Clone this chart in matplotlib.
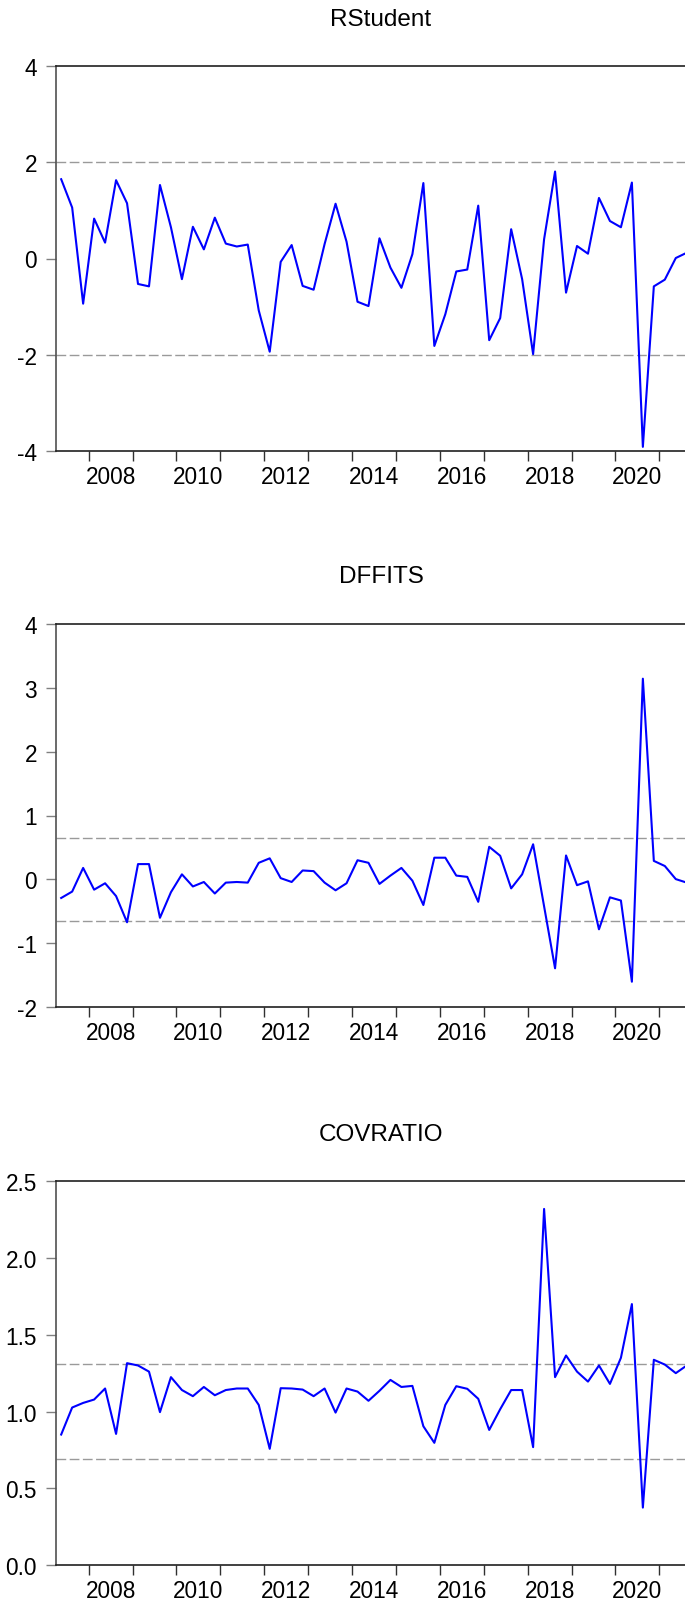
import numpy as np
import matplotlib
matplotlib.use("Agg")
import matplotlib.pyplot as plt
from matplotlib.ticker import FixedLocator, NullFormatter, FixedFormatter

plt.rcParams['font.family'] = ['Liberation Sans', 'DejaVu Sans']

# quarterly sample 2007Q2 - 2021Q3 (58 obs), plotted at quarter midpoints
n_obs = 58
quarters = 2007.375 + 0.25 * np.arange(n_obs)

rstudent = [1.65, 1.06, -0.94, 0.83, 0.33, 1.63, 1.15, -0.53, -0.58, 1.53,
            0.65, -0.43, 0.66, 0.19, 0.85, 0.31, 0.25, 0.29, -1.08, -1.94,
            -0.07, 0.28, -0.57, -0.65, 0.30, 1.14, 0.35, -0.90, -0.99, 0.42,
            -0.19, -0.61, 0.09, 1.57, -1.82, -1.16, -0.27, -0.23, 1.10, -1.70,
            -1.24, 0.61, -0.43, -1.99, 0.40, 1.81, -0.71, 0.26, 0.10, 1.26,
            0.78, 0.65, 1.58, -3.92, -0.58, -0.44, 0.01, 0.12]

dffits = [-0.29, -0.19, 0.18, -0.16, -0.06, -0.26, -0.67, 0.24, 0.24, -0.60,
          -0.20, 0.08, -0.11, -0.04, -0.22, -0.05, -0.04, -0.05, 0.26, 0.33,
          0.02, -0.04, 0.14, 0.13, -0.05, -0.17, -0.06, 0.30, 0.26, -0.07,
          0.06, 0.18, -0.02, -0.40, 0.34, 0.34, 0.06, 0.04, -0.35, 0.51,
          0.37, -0.14, 0.08, 0.55, -0.42, -1.39, 0.375, -0.09, -0.03, -0.78,
          -0.28, -0.33, -1.60, 3.14, 0.29, 0.21, 0.005, -0.05]

covratio = [0.85, 1.026, 1.056, 1.078, 1.15, 0.854, 1.315, 1.30, 1.26, 0.996,
            1.224, 1.14, 1.10, 1.16, 1.106, 1.14, 1.15, 1.15, 1.043, 0.757,
            1.152, 1.15, 1.143, 1.10, 1.15, 0.993, 1.15, 1.13, 1.07, 1.135,
            1.206, 1.16, 1.167, 0.904, 0.796, 1.043, 1.165, 1.148, 1.083, 0.88,
            1.015, 1.14, 1.14, 0.768, 2.32, 1.224, 1.365, 1.26, 1.195, 1.30,
            1.18, 1.35, 1.70, 0.374, 1.337, 1.306, 1.25, 1.30]

k_params = 6
dffits_cut = 2 * np.sqrt(k_params / n_obs)
cov_cut = 3 * k_params / n_obs

panels = [
    ("RStudent", rstudent, (-4, 4), [-4, -2, 0, 2, 4], ["-4", "-2", "0", "2", "4"], [-2, 2]),
    ("DFFITS", dffits, (-2, 4), [-2, -1, 0, 1, 2, 3, 4], ["-2", "-1", "0", "1", "2", "3", "4"],
     [-dffits_cut, dffits_cut]),
    ("COVRATIO", covratio, (0, 2.5), [0, 0.5, 1.0, 1.5, 2.0, 2.5],
     ["0.0", "0.5", "1.0", "1.5", "2.0", "2.5"], [1 - cov_cut, 1 + cov_cut]),
]

W, H = 685, 1606
fig = plt.figure(figsize=(W / 100, H / 100), dpi=100)

x0, x1 = 2007.25, 2021.75
left_px = 55.7
px_per_year = 43.9
right_px = left_px + (x1 - x0) * px_per_year
tops = [67.3, 624.7, 1182.3]
bottoms = [451.7, 1008.3, 1566.0]

fs = 16.3
title_fs = 17.5
for (title, vals, ylim, yt, ytl, refs), top, bot in zip(panels, tops, bottoms):
    ax = fig.add_axes([left_px / W, 1 - bot / H, (right_px - left_px) / W, (bot - top) / H])
    ax.plot(quarters, vals, color='#0000ff', lw=1.5, zorder=3)
    for r in refs:
        ax.axhline(r, color='#9a9a9a', lw=1.0, dashes=(7, 2.5), zorder=2)
    ax.set_xlim(x0, x1)
    ax.set_ylim(*ylim)

    ax.set_yticks(yt)
    ax.set_yticklabels(ytl)
    ax.tick_params(axis='y', direction='out', length=7.5, width=1.0, color='#808080',
                   labelsize=fs, pad=6)

    years = np.arange(2008, 2022)
    ax.xaxis.set_major_locator(FixedLocator(years))
    ax.xaxis.set_major_formatter(NullFormatter())
    label_years = np.arange(2008, 2022, 2)
    ax.xaxis.set_minor_locator(FixedLocator(label_years + 0.5))
    ax.xaxis.set_minor_formatter(FixedFormatter([str(y) for y in label_years]))
    ax.tick_params(axis='x', which='major', direction='out', length=7.5, width=1.0,
                   color='#303030')
    ax.tick_params(axis='x', which='minor', length=0, labelsize=fs, pad=10)

    for side in ['top', 'bottom', 'right']:
        ax.spines[side].set_color('#202020')
        ax.spines[side].set_linewidth(1.2)
    ax.spines['left'].set_color('#505050')
    ax.spines['left'].set_linewidth(1.2)

    fig.text(381 / W, 1 - (top - 41.3) / H, title, ha='center', va='baseline',
             fontsize=title_fs)

fig.savefig("out.png", dpi=100)
